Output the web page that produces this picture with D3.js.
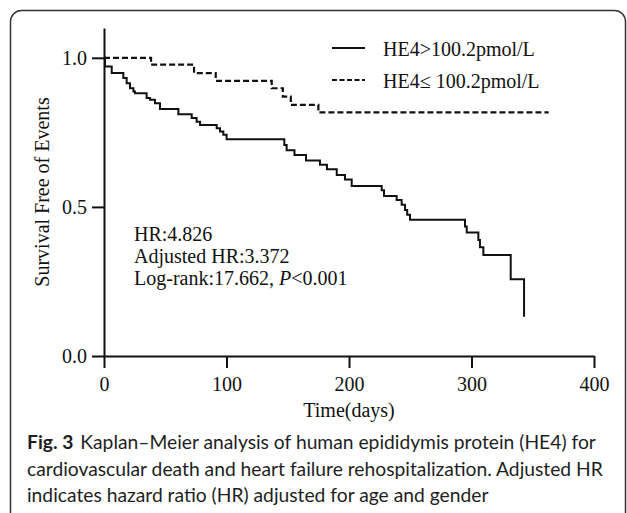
<!DOCTYPE html>
<html>
<head>
<meta charset="utf-8">
<script src="https://cdn.jsdelivr.net/npm/d3@7/dist/d3.min.js"></script>
<style>
  html, body { margin: 0; padding: 0; background: #fff; }
  svg { display: block; }
</style>
</head>
<body>
<svg id="chart" width="627" height="513"></svg>
<script>
// ---- Data ----
const highTimes = [0, 0.8, 6.3, 15.8, 18.5, 21.2, 24, 25.3, 34.8, 37.6, 41.6, 45.7, 60.7, 71.6, 75.6, 78.4, 92, 94.7, 97.4, 100.1,
  147.2, 149.1, 155.5, 164.9, 176.3, 182, 190, 196.7, 202.2, 226.7, 228.6, 238.9, 243, 245.7, 247.5, 249.8, 294.7, 296.1, 305.6, 306.9, 309.7, 332, 342.9];
const highSurv = [1.0, 0.971, 0.949, 0.932, 0.915, 0.898, 0.887, 0.881, 0.865, 0.859, 0.848, 0.828, 0.811, 0.798, 0.786, 0.775, 0.764, 0.753, 0.742, 0.727,
  0.708, 0.690, 0.674, 0.656, 0.641, 0.626, 0.607, 0.592, 0.570, 0.556, 0.537, 0.523, 0.507, 0.490, 0.474, 0.457, 0.434, 0.414, 0.389, 0.365, 0.339, 0.257, 0.132];

const lowTimes = [0, 38.4, 73.5, 91.2, 136.9, 146.0, 152.5, 175.0, 363];
const lowSurv  = [1.0, 0.977, 0.949, 0.923, 0.898, 0.870, 0.842, 0.817, 0.817];

const xTicks = [0, 100, 200, 300, 400];
const yTicks = [0, 0.5, 1.0];
const yTickLabels = ["0.0", "0.5", "1.0"];

const legendLabels = ["HE4>100.2pmol/L", "HE4\u2264 100.2pmol/L"];
const statLines = ["HR:4.826", "Adjusted HR:3.372", "Log-rank:17.662, "];
const xTitle = "Time(days)";
const yTitle = "Survival Free of Events";
const captionBold = "Fig. 3";
const captionLines = [
  "Kaplan\u2013Meier analysis of human epididymis protein (HE4) for",
  "cardiovascular death and heart failure rehospitalization. Adjusted HR",
  "indicates hazard ratio (HR) adjusted for age and gender"
];

// ---- Layout ----
const svg = d3.select("#chart");
const serif = "'Liberation Serif', 'Times New Roman', serif";
const ink = "#111";

// frame
svg.append("rect")
  .attr("x", 10.5).attr("y", 10.5).attr("width", 615).attr("height", 620)
  .attr("rx", 11).attr("ry", 11)
  .attr("fill", "none").attr("stroke", "#333").attr("stroke-width", 1.5);

const x = d3.scaleLinear().domain([0, 400]).range([104, 594]);
const y = d3.scaleLinear().domain([0, 1.1]).range([356, 28]);

// axes
const yAxis = d3.axisLeft(y).tickValues(yTicks)
  .tickFormat((d, i) => yTickLabels[i]).tickSize(12).tickSizeOuter(0).tickPadding(5);
const xAxis = d3.axisBottom(x).tickValues(xTicks)
  .tickFormat(d3.format("d")).tickSize(12).tickSizeOuter(0).tickPadding(9);

const gx = svg.append("g").attr("transform", `translate(0,${y(0)})`).call(xAxis);
const gy = svg.append("g").attr("transform", `translate(${x(0)},0)`).call(yAxis);
[gx, gy].forEach(g => {
  g.selectAll("path, line").attr("stroke", ink).attr("stroke-width", 2);
  g.selectAll("text").attr("fill", ink).style("font-family", serif).style("font-size", "20px");
});

// curves
const line = d3.line().x(d => x(d[0])).y(d => y(d[1])).curve(d3.curveStepAfter);
const highPts = highTimes.map((t, i) => [t, highSurv[i]]);
const lowPts = lowTimes.map((t, i) => [t, lowSurv[i]]);

svg.append("path").datum(lowPts).attr("d", line)
  .attr("fill", "none").attr("stroke", ink).attr("stroke-width", 2.2)
  .attr("stroke-dasharray", "6,3");
svg.append("path").datum(highPts).attr("d", line)
  .attr("fill", "none").attr("stroke", ink).attr("stroke-width", 2);

// legend
const legend = svg.append("g");
[0, 1].forEach(i => {
  const ly = 48 + i * 32;
  legend.append("line").attr("x1", 332).attr("x2", 365).attr("y1", ly).attr("y2", ly)
    .attr("stroke", ink).attr("stroke-width", 2)
    .attr("stroke-dasharray", i === 1 ? "5,2.5" : null);
  legend.append("text").attr("x", 383).attr("y", ly + 8)
    .style("font-family", serif).style("font-size", "20px").attr("fill", ink)
    .text(legendLabels[i]);
});

// stats annotation
statLines.forEach((s, i) => {
  const t = svg.append("text").attr("x", 134).attr("y", 241 + i * 22)
    .style("font-family", serif).style("font-size", "20px").attr("fill", ink)
    .text(s);
  if (i === 2) {
    t.append("tspan").style("font-style", "italic").text("P");
    t.append("tspan").text("<0.001");
  }
});

// axis titles
svg.append("text").attr("x", x(200)).attr("y", 417).attr("text-anchor", "middle")
  .style("font-family", serif).style("font-size", "20px").attr("fill", ink).text(xTitle);
svg.append("text").attr("transform", "translate(49,192) rotate(-90)").attr("text-anchor", "middle")
  .style("font-family", serif).style("font-size", "20px").attr("fill", ink).text(yTitle);

// caption
const capFont = "Lato, 'Open Sans', sans-serif";
const capG = svg.append("g");
const capTexts = captionLines.map((s, i) => {
  const t = capG.append("text").attr("x", 27).attr("y", 449 + i * 26.5)
    .style("font-family", capFont).style("font-size", "16px").attr("fill", "#1e1e1e");
  if (i === 0) {
    t.append("tspan").style("font-weight", "bold").text(captionBold);
    t.append("tspan").attr("dx", 7).text(s);
  } else {
    t.text(s);
  }
  return t;
});
// fit caption size so the longest line spans the caption width
const len = capTexts[1].node().getComputedTextLength();
const fs = 16 * 576 / len;
capTexts.forEach(t => t.style("font-size", fs + "px"));
</script>
</body>
</html>
